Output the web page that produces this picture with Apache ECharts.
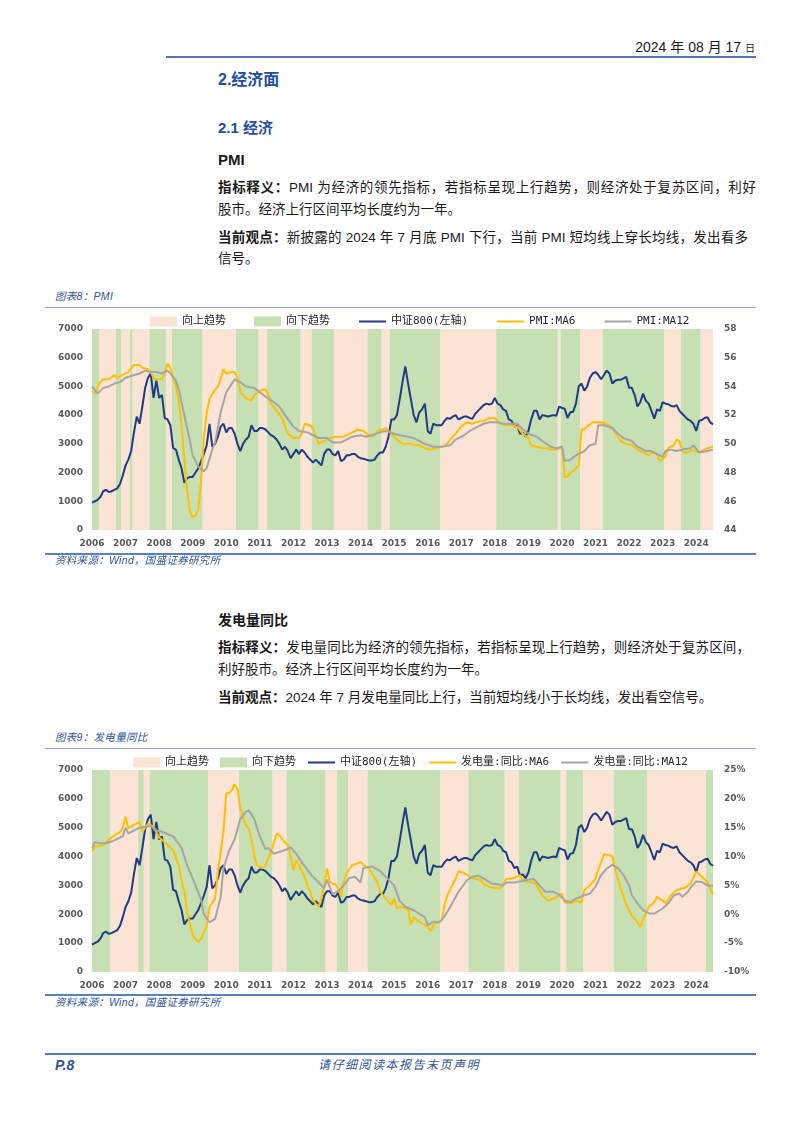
<!DOCTYPE html>
<html>
<head>
<meta charset="utf-8">
<title>PMI / 发电量同比</title>
<script src="https://cdn.jsdelivr.net/npm/echarts@6.0.0/dist/echarts.min.js"></script>
<style>
  html, body { margin: 0; padding: 0; background: #fff; }
  body { position: relative; width: 802px; height: 1132px; overflow: hidden;
         font-family: "Liberation Sans", "Noto Sans CJK SC", sans-serif; color: #1a1a1a; }
  .t { position: absolute; white-space: nowrap; height: 20px; line-height: 20px; }
  .blue { color: #1f4e9a; }
  .cap { font-style: italic; color: #2f5597; font-size: 10.5px; letter-spacing: 0.3px; }
  .body { font-size: 13.5px; }
  .just { text-align: justify; text-align-last: justify; }
  .rule { position: absolute; }
  .chart { position: absolute; left: 0; width: 802px; }
</style>
</head>
<body>

<div class="t" style="right:47px; top:37px; font-size:14px;">2024 年 08 月 17 <span style="font-size:10px;">日</span></div>
<div class="rule" style="left:166px; top:56px; width:590px; height:2px; background:#4f78c0;"></div>

<div class="t blue" style="left:218px; top:70px; font-size:16px; font-weight:bold;">2.经济面</div>
<div class="t blue" style="left:218px; top:118px; font-size:15px; font-weight:bold;">2.1 经济</div>
<div class="t" style="left:218px; top:150px; font-size:15px; font-weight:bold;">PMI</div>

<div class="t body just" style="left:218px; top:178px; width:538px;"><b>指标释义：</b>PMI 为经济的领先指标，若指标呈现上行趋势，则经济处于复苏区间，利好</div>
<div class="t body" style="left:218px; top:200px;">股市。经济上行区间平均长度约为一年。</div>
<div class="t body just" style="left:218px; top:228px; width:530px;"><b>当前观点：</b>新披露的 2024 年 7 月底 PMI 下行，当前 PMI 短均线上穿长均线，发出看多</div>
<div class="t body" style="left:218px; top:249px;">信号。</div>

<div class="t cap" style="left:55px; top:286px;">图表8：PMI</div>
<div class="rule" style="left:45px; top:307px; width:711px; height:1px; background:#8fa9d4;"></div>
<div id="c1" class="chart" style="top:305px; height:248px;"></div>
<div class="rule" style="left:45px; top:553px; width:711px; height:1.5px; background:#5a80c0;"></div>
<div class="t cap" style="left:55px; top:550px;">资料来源：Wind，国盛证券研究所</div>

<div class="t" style="left:218px; top:610px; font-size:14px; font-weight:bold;">发电量同比</div>
<div class="t body just" style="left:218px; top:638px; width:532px;"><b>指标释义：</b>发电量同比为经济的领先指标，若指标呈现上行趋势，则经济处于复苏区间，</div>
<div class="t body" style="left:218px; top:660px;">利好股市。经济上行区间平均长度约为一年。</div>
<div class="t body" style="left:218px; top:688px;"><b>当前观点：</b>2024 年 7 月发电量同比上行，当前短均线小于长均线，发出看空信号。</div>

<div class="t cap" style="left:55px; top:727px;">图表9：发电量同比</div>
<div class="rule" style="left:45px; top:748px; width:711px; height:1px; background:#8fa9d4;"></div>
<div id="c2" class="chart" style="top:750px; height:242px;"></div>
<div class="rule" style="left:45px; top:994px; width:711px; height:1.5px; background:#5a80c0;"></div>
<div class="t cap" style="left:55px; top:992px;">资料来源：Wind，国盛证券研究所</div>

<div class="rule" style="left:45px; top:1053px; width:711px; height:2px; background:#4f78c0;"></div>
<div class="t" style="left:55px; top:1055px; font-size:14px; font-weight:bold; font-style:italic; color:#2f5597;">P.8</div>
<div class="t" style="left:318px; top:1055px; font-size:12px; letter-spacing:1.5px; font-style:italic; color:#2f5597;">请仔细阅读本报告末页声明</div>

<script>
// ---------- data ----------
const months = [];
for (let y = 2006; y <= 2024; y++) {
  for (let m = 1; m <= 12; m++) {
    if (y === 2024 && m > 7) break;
    months.push(y + '-' + String(m).padStart(2, '0'));
  }
}

// 中证800 month-end close, 2006-01 .. 2024-07
const csi800 = [
  950, 1000, 1050, 1150, 1350, 1400, 1320, 1350, 1400, 1450, 1600, 1900,
  2250, 2450, 2750, 3400, 3950, 3700, 4300, 4950, 5300, 5450, 4600, 5200,
  4600, 4700, 3900, 3850, 3650, 2850, 2800, 2450, 2150, 1650, 1800, 1850,
  1850, 2000, 2150, 2400, 2650, 2950, 3700, 2900, 3000, 3250, 3600, 3700,
  3400, 3550, 3550, 3350, 3000, 2750, 3000, 3150, 3250, 3650, 3450, 3450,
  3550, 3550, 3500, 3400, 3300, 3250, 3150, 3000, 2800, 2900, 2750, 2500,
  2650, 2800, 2650, 2800, 2700, 2550, 2450, 2350, 2450, 2350, 2250, 2650,
  2800, 2800, 2650, 2600, 2750, 2400, 2450, 2600, 2600, 2650, 2650, 2550,
  2500, 2480, 2450, 2420, 2420, 2450, 2600, 2700, 2700, 2900, 3250, 3850,
  3850, 4000, 4550, 5150, 5700, 5100, 4550, 4000, 3750, 4100, 4200, 4400,
  3450, 3350, 3700, 3650, 3650, 3650, 3800, 3900, 3870, 3950, 4000, 3850,
  3900, 3950, 3950, 3900, 3870, 4050, 4150, 4250, 4350, 4400, 4370, 4400,
  4600, 4400, 4350, 4200, 4150, 3850, 3800, 3600, 3650, 3350, 3380, 3250,
  3450, 3850, 4150, 4150, 3850, 4000, 3980, 3950, 3980, 4000, 3980, 4300,
  4250, 4220, 3900, 4100, 4120, 4400, 5000, 5100, 4850, 5000, 5300, 5450,
  5500, 5400, 5250, 5400, 5550, 5450, 5100, 5200, 5230, 5230, 5280, 5330,
  4950, 4950, 4700, 4300, 4450, 4750, 4500, 4400, 4150, 3880, 4200, 4150,
  4450, 4400, 4380, 4320, 4300, 4350, 4150, 4050, 3950, 3850, 3800, 3700,
  3450, 3800, 3830, 3900, 3930, 3750, 3680
];

const pmiMa6 = [
  ['2006-01',53.7],['2006-02',53.5],['2006-04',54.3],['2006-05',54.5],['2006-07',54.5],['2006-09',54.8],['2006-10',54.6],['2006-12',54.8],
  ['2007-01',54.9],['2007-02',55.0],['2007-04',55.5],['2007-06',55.5],['2007-07',55.3],['2007-09',55.2],['2007-10',55.0],['2007-11',54.6],['2007-12',54.5],
  ['2008-02',54.5],['2008-03',54.9],['2008-04',55.6],['2008-05',55.3],['2008-06',54.6],['2008-07',54.0],['2008-08',53.0],['2008-09',51.3],['2008-10',48.9],['2008-11',46.8],['2008-12',45.3],
  ['2009-01',44.9],['2009-02',45.0],['2009-03',45.4],['2009-04',47.5],['2009-05',50.5],['2009-06',52.2],['2009-07',53.1],['2009-08',53.5],['2009-10',54.0],['2009-11',54.5],['2009-12',55.2],
  ['2010-01',54.9],['2010-03',55.0],['2010-04',55.0],['2010-05',54.6],['2010-06',53.6],['2010-08',53.2],['2010-10',53.0],['2010-11',53.4],
  ['2011-01',53.7],['2011-03',53.8],['2011-04',53.4],['2011-05',52.8],['2011-07',52.3],['2011-09',51.8],['2011-10',51.2],['2011-11',50.7],
  ['2012-01',50.4],['2012-03',50.4],['2012-04',50.7],['2012-05',51.4],['2012-07',51.3],['2012-08',51.1],['2012-10',50.0],['2012-12',50.2],
  ['2013-02',50.4],['2013-04',50.5],['2013-07',50.5],['2013-09',50.7],['2013-12',51.0],
  ['2014-02',50.9],['2014-04',50.6],['2014-05',50.5],['2014-06',50.6],['2014-07',50.9],['2014-09',51.0],['2014-10',51.1],['2014-11',50.9],
  ['2015-02',50.3],['2015-04',50.0],['2015-07',50.0],['2015-09',49.9],['2015-10',49.9],['2015-12',49.7],
  ['2016-02',49.6],['2016-04',49.7],['2016-06',49.8],['2016-08',50.0],['2016-09',50.3],['2016-11',50.7],
  ['2017-01',51.2],['2017-03',51.5],['2017-05',51.4],['2017-06',51.5],['2017-09',51.6],['2017-11',51.8],
  ['2018-01',51.8],['2018-03',51.4],['2018-05',51.3],['2018-07',51.3],['2018-09',51.2],['2018-11',50.7],
  ['2019-01',50.4],['2019-02',49.9],['2019-04',49.8],['2019-06',49.7],['2019-08',49.7],['2019-09',49.6],['2019-11',49.6],['2019-12',49.7],
  ['2020-01',49.8],['2020-02',47.7],['2020-03',47.7],['2020-04',48.0],['2020-05',48.1],['2020-06',48.3],['2020-07',48.5],['2020-08',51.0],['2020-09',51.0],['2020-10',51.2],['2020-12',51.5],
  ['2021-03',51.5],['2021-05',51.4],['2021-07',51.1],['2021-08',50.8],['2021-10',50.2],['2021-12',50.0],
  ['2022-02',49.9],['2022-04',49.6],['2022-06',49.4],['2022-08',49.2],['2022-09',49.4],['2022-11',49.3],['2022-12',48.8],
  ['2023-02',49.1],['2023-03',49.7],['2023-04',49.8],['2023-05',49.9],['2023-06',50.3],['2023-07',50.2],['2023-08',49.5],['2023-09',49.4],['2023-10',49.4],['2023-12',49.6],
  ['2024-02',49.4],['2024-03',49.5],['2024-05',49.7],['2024-07',49.8]
];

const pmiMa12 = [
  ['2006-01',54.0],['2006-03',53.5],['2006-05',53.9],['2006-07',54.0],['2006-09',54.2],['2006-11',54.3],
  ['2007-01',54.6],['2007-04',54.8],['2007-06',54.9],['2007-08',55.1],['2007-10',55.0],['2007-12',55.0],
  ['2008-02',54.9],['2008-04',55.1],['2008-05',54.9],['2008-07',54.4],['2008-08',53.8],['2008-10',52.0],['2008-12',50.2],
  ['2009-01',49.2],['2009-03',48.4],['2009-05',48.1],['2009-06',48.3],['2009-08',49.6],['2009-09',50.1],['2009-11',52.2],
  ['2010-01',53.6],['2010-02',53.9],['2010-04',54.5],['2010-06',54.3],['2010-08',54.0],['2010-11',53.9],
  ['2011-01',53.6],['2011-03',53.3],['2011-06',52.9],['2011-08',52.6],['2011-10',52.0],
  ['2012-01',51.2],['2012-03',50.9],['2012-06',50.8],['2012-08',50.6],['2012-10',50.4],
  ['2013-01',50.4],['2013-03',50.1],['2013-06',50.1],['2013-08',50.3],['2013-10',50.5],
  ['2014-01',50.6],['2014-03',50.5],['2014-05',50.6],['2014-08',50.8],['2014-10',50.9],
  ['2015-01',50.7],['2015-03',50.6],['2015-06',50.5],['2015-08',50.4],['2015-10',50.2],['2015-12',50.0],
  ['2016-03',49.8],['2016-06',49.8],['2016-09',49.9],['2016-11',50.3],
  ['2017-02',50.6],['2017-04',50.9],['2017-07',51.2],['2017-09',51.4],['2017-11',51.5],
  ['2018-02',51.5],['2018-04',51.4],['2018-09',51.4],['2018-11',51.0],
  ['2019-01',50.7],['2019-04',50.5],['2019-06',50.2],['2019-09',49.8],['2019-11',49.7],
  ['2020-01',49.8],['2020-02',48.8],['2020-04',48.9],['2020-06',49.2],['2020-09',49.5],['2020-11',49.9],
  ['2021-01',50.0],['2021-02',51.3],['2021-04',51.3],['2021-07',51.1],['2021-09',50.7],['2021-11',50.4],
  ['2022-02',50.2],['2022-04',49.8],['2022-07',49.5],['2022-09',49.5],['2022-11',49.3],
  ['2023-01',49.1],['2023-02',49.5],['2023-04',49.6],['2023-06',49.5],['2023-08',49.6],['2023-11',49.7],['2023-12',49.9],
  ['2024-02',49.4],['2024-05',49.5],['2024-07',49.6]
];

const powerMa6 = [
  ['2006-01',10.9],['2006-02',11.7],['2006-05',12.0],['2006-07',12.9],['2006-09',13.7],['2006-11',14.2],['2006-12',15.0],
  ['2007-01',16.9],['2007-02',14.9],['2007-04',15.5],['2007-06',16.0],['2007-07',14.3],['2007-09',15.7],['2007-11',15.2],
  ['2008-01',13.3],['2008-02',12.9],['2008-04',12.0],['2008-06',11.1],['2008-08',8.5],['2008-09',6.0],['2008-10',4.0],['2008-11',0.4],
  ['2009-01',-3.6],['2009-02',-4.2],['2009-03',-4.8],['2009-04',-4.2],['2009-06',-1.9],['2009-07',1.3],['2009-09',2.7],['2009-10',7.4],['2009-12',14.3],
  ['2010-01',21.0],['2010-02',21.0],['2010-03',21.5],['2010-04',22.5],['2010-05',21.8],['2010-06',18.3],['2010-08',15.5],['2010-09',14.9],['2010-10',13.1],['2010-11',10.2],['2010-12',8.5],
  ['2011-02',8.0],['2011-03',8.5],['2011-05',10.8],['2011-07',14.0],['2011-08',13.7],['2011-09',12.9],['2011-11',12.0],['2011-12',10.0],
  ['2012-01',7.6],['2012-02',9.4],['2012-03',8.5],['2012-05',6.5],['2012-06',5.0],['2012-07',3.9],['2012-08',2.4],['2012-10',1.3],['2012-11',2.7],['2012-12',5.0],
  ['2013-01',7.9],['2013-02',5.6],['2013-03',5.3],['2013-04',5.2],['2013-05',4.5],['2013-06',3.0],['2013-07',5.6],['2013-08',7.1],['2013-10',8.5],['2013-12',8.8],
  ['2014-01',9.1],['2014-02',8.5],['2014-04',8.0],['2014-05',7.1],['2014-07',5.6],['2014-08',3.9],['2014-10',2.7],['2014-12',1.6],
  ['2015-01',2.7],['2015-02',1.0],['2015-03',1.3],['2015-04',1.2],['2015-05',1.0],['2015-06',0.8],['2015-07',-1.8],['2015-08',-0.5],['2015-10',-1.3],['2015-11',-1.6],
  ['2016-01',-2.2],['2016-02',-2.9],['2016-03',-1.9],['2016-05',-1.3],['2016-06',-1.0],['2016-07',1.6],['2016-08',3.3],['2016-09',4.2],['2016-11',6.2],['2016-12',7.4],
  ['2017-02',7.2],['2017-04',6.5],['2017-06',6.2],['2017-08',5.9],['2017-09',5.2],['2017-11',4.8],
  ['2018-01',4.5],['2018-03',4.5],['2018-04',5.3],['2018-05',6.1],['2018-07',6.2],['2018-09',6.5],['2018-10',6.8],['2018-11',5.9],
  ['2019-01',5.6],['2019-03',5.5],['2019-04',5.0],['2019-06',3.3],['2019-08',2.4],['2019-10',2.7],['2019-12',3.3],
  ['2020-01',3.6],['2020-02',2.1],['2020-04',1.9],['2020-06',2.3],['2020-08',2.1],['2020-09',4.2],['2020-11',5.0],
  ['2021-01',6.2],['2021-02',7.8],['2021-03',9.0],['2021-04',10.4],['2021-06',10.2],['2021-07',10.1],['2021-08',7.9],['2021-10',4.5],['2021-12',1.6],
  ['2022-02',-0.2],['2022-04',-1.3],['2022-05',-2.2],['2022-06',-1.0],['2022-08',1.3],['2022-10',2.1],['2022-11',3.0],
  ['2023-01',2.4],['2023-02',1.9],['2023-04',3.3],['2023-06',4.2],['2023-08',4.5],['2023-09',4.6],['2023-11',5.3],
  ['2024-01',7.4],['2024-03',6.5],['2024-05',5.6],['2024-06',4.5],['2024-07',3.4]
];

const powerMa12 = [
  ['2006-01',11.4],['2006-02',12.5],['2006-04',12.3],['2006-06',12.3],['2006-09',12.8],['2006-11',13.3],['2006-12',13.5],
  ['2007-01',15.0],['2007-02',14.0],['2007-06',15.0],['2007-10',15.3],['2007-12',14.5],
  ['2008-02',14.3],['2008-06',13.5],['2008-09',11.5],['2008-11',8.5],
  ['2009-02',5.0],['2009-04',2.5],['2009-05',0.0],['2009-07',-1.4],['2009-09',-0.8],['2009-11',3.0],['2009-12',8.0],
  ['2010-02',11.0],['2010-04',13.0],['2010-06',16.5],['2010-08',17.8],['2010-09',18.0],['2010-11',16.5],
  ['2011-01',13.5],['2011-03',11.3],['2011-04',11.5],['2011-06',10.5],['2011-08',10.8],['2011-11',11.3],['2011-12',11.6],
  ['2012-02',10.5],['2012-04',9.0],['2012-07',7.0],['2012-10',5.5],['2012-12',4.5],
  ['2013-01',6.0],['2013-03',3.5],['2013-05',4.0],['2013-07',5.0],['2013-09',6.3],['2013-11',6.5],
  ['2014-01',5.5],['2014-02',8.0],['2014-05',8.3],['2014-08',7.5],['2014-11',6.0],
  ['2015-01',5.0],['2015-03',2.3],['2015-05',1.3],['2015-08',0.7],['2015-10',0.1],['2015-12',-0.5],
  ['2016-01',-1.9],['2016-03',-1.3],['2016-05',-1.4],['2016-06',-1.0],['2016-08',0.4],['2016-10',2.1],['2016-12',3.9],
  ['2017-02',5.2],['2017-03',5.9],['2017-05',6.5],['2017-07',6.7],['2017-09',6.2],['2017-11',5.6],['2017-12',5.3],
  ['2018-02',5.2],['2018-04',5.0],['2018-05',5.5],['2018-08',5.5],['2018-10',5.7],['2018-12',5.9],
  ['2019-03',6.1],['2019-05',5.0],['2019-07',3.9],['2019-10',3.9],['2019-12',3.4],
  ['2020-02',2.4],['2020-04',2.1],['2020-06',2.7],['2020-09',3.3],['2020-11',3.6],
  ['2021-01',4.8],['2021-03',6.8],['2021-05',7.9],['2021-07',8.6],['2021-09',8.0],['2021-11',6.8],
  ['2022-01',5.0],['2022-02',3.3],['2022-04',1.9],['2022-06',0.7],['2022-08',0.2],['2022-10',0.1],['2022-11',0.4],
  ['2023-01',1.0],['2023-03',1.9],['2023-05',3.3],['2023-07',3.6],['2023-08',3.0],['2023-10',3.9],['2023-11',4.6],
  ['2024-01',5.7],['2024-03',5.6],['2024-05',5.0],['2024-07',4.9]
];

// trend regimes: month the regime starts, up / down
const pmiTrend = [
  ['2006-01','down'],['2006-04','up'],['2006-10','down'],['2006-12','up'],['2007-03','down'],['2007-04','up'],
  ['2007-10','down'],['2008-04','up'],['2008-06','down'],['2009-05','up'],['2010-05','down'],['2011-01','up'],
  ['2011-04','down'],['2012-04','up'],['2012-08','down'],['2013-04','up'],['2014-04','down'],['2014-09','up'],
  ['2014-12','down'],['2016-06','up'],['2018-02','down'],['2019-12','up'],['2020-01','down'],['2020-08','up'],
  ['2021-04','down'],['2023-02','up'],['2023-08','down'],['2024-03','up']
];
const powerTrend = [
  ['2006-01','down'],['2006-08','up'],['2007-06','down'],['2007-08','up'],['2007-10','down'],['2009-07','up'],
  ['2010-06','down'],['2011-06','up'],['2011-11','down'],['2013-01','up'],['2013-05','down'],['2013-09','up'],
  ['2014-04','down'],['2016-06','up'],['2017-04','down'],['2018-05','up'],['2018-10','down'],['2020-01','up'],
  ['2020-03','down'],['2020-09','up'],['2021-08','down'],['2022-08','up'],['2024-05','down']
];

const leftMax = 7000;
const upColor = '#fbe3d5';
const downColor = '#c6e0b4';

// ---------- helpers ----------
// [first month index, 0, index of the month the next regime starts]
function bandSpans(trend, kind) {
  const out = [];
  trend.forEach((t, i) => {
    if (t[1] !== kind) return;
    const s = months.indexOf(t[0]);
    const e = i + 1 < trend.length ? months.indexOf(trend[i + 1][0]) : months.length;
    out.push([s, 0, e]);
  });
  return out;
}

// a regime covers whole month slots: from half a slot before its first month
function bandRender(color) {
  return function (params, api) {
    const half = api.size([1, 0])[0] / 2;
    const a = api.coord([api.value(0), leftMax]);
    const b = api.coord([api.value(2), 0]);
    return {
      type: 'rect',
      shape: { x: a[0] - half, y: a[1], width: b[0] - a[0], height: b[1] - a[1] },
      style: { fill: color }
    };
  };
}

const axisText = { color: '#595959', fontWeight: 'bold', fontSize: 9, fontFamily: 'DejaVu Sans' };

function buildOption(cfg) {
  const band = (name, kind, color) => ({
    name, type: 'custom', data: bandSpans(cfg.trend, kind), silent: true, z: 1,
    clip: true, itemStyle: { color }, renderItem: bandRender(color)
  });
  const line = (name, data, color, yIdx) => ({
    name, type: 'line', data, yAxisIndex: yIdx, symbol: 'none', silent: true, z: 3,
    lineStyle: { color, width: 2 }, itemStyle: { color, opacity: 0 }
  });
  return {
    animation: false,
    grid: { left: 92, top: cfg.gridTop, width: 621, height: cfg.gridHeight },
    legend: {
      left: cfg.legendLeft, top: cfg.legendTop, itemGap: cfg.legendGap, padding: 0,
      itemWidth: 27, itemHeight: 10,
      data: [
        { name: '向上趋势', icon: 'rect' },
        { name: '向下趋势', icon: 'rect' },
        '中证800(左轴)', cfg.ma6Name, cfg.ma12Name
      ],
      textStyle: { fontSize: 11, color: '#262626', fontFamily: "'DejaVu Sans Mono', 'Noto Sans CJK SC'" }
    },
    xAxis: {
      type: 'category', data: months, boundaryGap: false,
      axisLine: { show: false }, axisTick: { show: false }, splitLine: { show: false },
      axisLabel: Object.assign({}, axisText, {
        margin: 9,
        interval: (i, v) => v.slice(5) === '01',
        formatter: v => v.slice(0, 4)
      })
    },
    yAxis: [
      { type: 'value', min: 0, max: leftMax, interval: 1000, splitLine: { show: false },
        axisLine: { show: false }, axisTick: { show: false },
        axisLabel: Object.assign({}, axisText, { margin: 9, formatter: v => String(v) }) },
      { type: 'value', position: 'right', min: cfg.rMin, max: cfg.rMax, interval: cfg.rStep,
        splitLine: { show: false }, axisLine: { show: false }, axisTick: { show: false },
        axisLabel: Object.assign({}, axisText, { margin: 11, formatter: cfg.rFmt }) }
    ],
    series: [
      band('向上趋势', 'up', upColor),
      band('向下趋势', 'down', downColor),
      line('中证800(左轴)', csi800, '#203a83', 0),
      line(cfg.ma6Name, cfg.ma6, '#ffc000', 1),
      line(cfg.ma12Name, cfg.ma12, '#a5a5a5', 1)
    ]
  };
}

const c1 = echarts.init(document.getElementById('c1'));
c1.setOption(buildOption({
  gridTop: 24, gridHeight: 201, legendLeft: 150, legendTop: 11, legendGap: 28,
  trend: pmiTrend, rMin: 44, rMax: 58, rStep: 2, rFmt: '{value}',
  ma6Name: 'PMI:MA6', ma6: pmiMa6, ma12Name: 'PMI:MA12', ma12: pmiMa12
}));

const c2 = echarts.init(document.getElementById('c2'));
c2.setOption(buildOption({
  gridTop: 20, gridHeight: 202, legendLeft: 133, legendTop: 7, legendGap: 11,
  trend: powerTrend, rMin: -10, rMax: 25, rStep: 5, rFmt: '{value}%',
  ma6Name: '发电量:同比:MA6', ma6: powerMa6, ma12Name: '发电量:同比:MA12', ma12: powerMa12
}));
</script>
</body>
</html>
